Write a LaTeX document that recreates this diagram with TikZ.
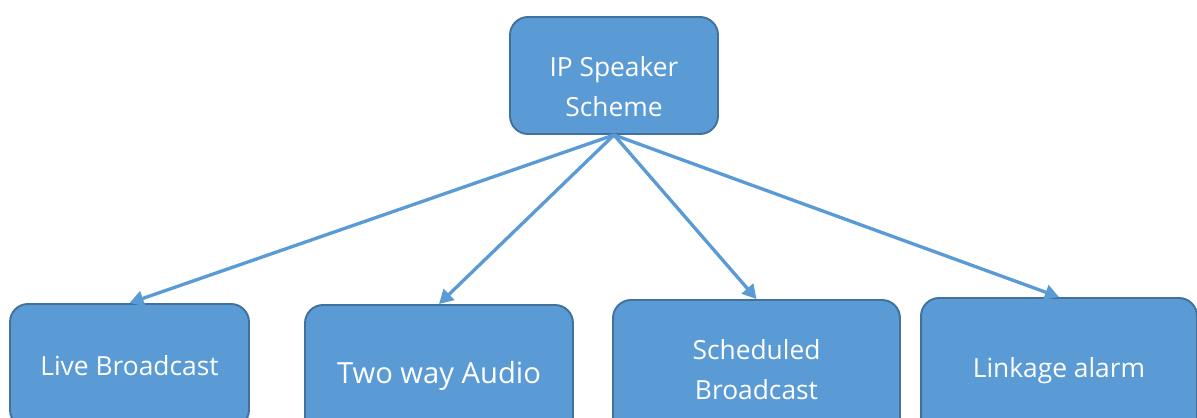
\documentclass[tikz,border=0pt]{standalone}
\usepackage{fontspec}
\setmainfont{Open Sans}
\usetikzlibrary{arrows.meta}
\definecolor{boxfill}{HTML}{5B9BD5}
\definecolor{boxline}{HTML}{41719C}

\begin{document}
\begin{tikzpicture}[x=0.02cm,y=-0.02cm,
  box/.style={draw=boxline,line width=1.1pt,fill=boxfill,rounded corners=0.36cm,
    text=white,align=center,font=\fontsize{15}{22.8}\selectfont,inner sep=0pt},
  link/.style={draw=boxfill,line width=1.9pt,-{Triangle[length=0.28cm,width=0.3cm]}}]

\useasboundingbox (0,0) rectangle (1197,418);

\node [box,minimum width=4.16cm,text height=2.0cm,text depth=0.34cm] (ips) at (614,75.5) {IP Speaker\\Scheme};

\node [box,minimum width=4.78cm,minimum height=2.48cm] (live) at (129.5,366) {Live Broadcast};
\node [box,minimum width=5.36cm,minimum height=2.84cm,font=\fontsize{16.6}{22.8}\selectfont] (two) at (439,376) {Two way Audio};
\node [box,minimum width=5.74cm,minimum height=2.8cm] (sched) at (756.5,370) {Scheduled\\Broadcast};
\node [box,minimum width=5.52cm,minimum height=2.92cm] (link) at (1059,371) {Linkage alarm};

\draw [link] (ips.south) -- (live.north);
\draw [link] (ips.south) -- (two.north);
\draw [link] (ips.south) -- (sched.north);
\draw [link] (ips.south) -- (link.north);

\end{tikzpicture}
\end{document}
